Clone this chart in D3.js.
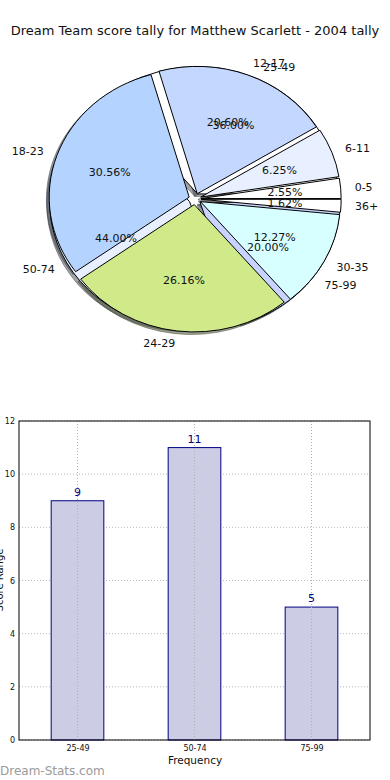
<!DOCTYPE html>
<html><head><meta charset="utf-8">
<script src="https://cdn.jsdelivr.net/npm/d3@7"></script>
<style>body{margin:0;background:#fff}svg{display:block}text{font-family:"DejaVu Sans",sans-serif}</style>
</head><body>
<svg id="c" width="390" height="780"></svg>
<script>
const title = "Dream Team score tally for Matthew Scarlett - 2004 tally";
// Pie 1: score groups (percentages)
const ageLabels = ["0-5","6-11","12-17","18-23","24-29","30-35","36+"];
const ageValues = [2.55, 6.25, 20.60, 30.56, 26.16, 12.27, 1.62];
const ageColors = ["#ffffff","#e8f0ff","#c4d8ff","#b4d4ff","#d0ea8a","#d8ffff","#ffffff"];
// Pie 2 / bar chart: tally ranges
const rangeLabels = ["25-49","50-74","75-99"];
const rangeValues = [9, 11, 5];
const rangeColors = ["#ffffff","#e8f0ff","#c8d4ff"];
const yTicks = [0,2,4,6,8,10,12];

const svg = d3.select("#c");
svg.append("text").attr("x",195).attr("y",35).attr("text-anchor","middle")
  .attr("font-size",13).attr("fill","#111").text(title);

// ---------- Pie ----------
const cx = 195, cy = 199, sx = 140, sy = 127.4, expl = 0.044;
const pie = d3.pie().sort(null).value(d=>d.v).startAngle(Math.PI/2).endAngle(Math.PI/2 - 2*Math.PI);
const arc = d3.arc().innerRadius(0).outerRadius(1);
const pieLayer = svg.append("g");
const shadowLayer = pieLayer.append("g");
const wedgeLayer = pieLayer.append("g");
const textLayer = svg.append("g");

function drawPie(labels, values, colors){
  const total = d3.sum(values);
  const data = pie(values.map((v,i)=>({v, l:labels[i], c:colors[i]})));
  data.forEach(d=>{
    const mid = (d.startAngle + d.endAngle)/2;
    const ux = Math.sin(mid), uy = -Math.cos(mid);
    const ox = cx + expl*ux*sx, oy = cy + expl*uy*sy;
    const col = d3.rgb(d.data.c);
    const dark = d3.rgb(col.r*0.3,col.g*0.3,col.b*0.3);
    shadowLayer.append("path").attr("d", arc(d))
      .attr("transform",`translate(${ox-0.02*sx},${oy+0.02*sy}) scale(${sx},${sy})`)
      .attr("fill", dark).attr("fill-opacity",0.5)
      .attr("stroke", dark).attr("stroke-opacity",0.5)
      .attr("stroke-width",1).attr("vector-effect","non-scaling-stroke");
    wedgeLayer.append("path").attr("d", arc(d))
      .attr("transform",`translate(${ox},${oy}) scale(${sx},${sy})`)
      .attr("fill", d.data.c).attr("stroke","#000").attr("stroke-width",1)
      .attr("vector-effect","non-scaling-stroke");
    const lx = ox + 1.1*ux*sx, ly = oy + 1.1*uy*sy;
    textLayer.append("text").attr("x",lx).attr("y",ly).attr("dy","0.35em")
      .attr("text-anchor", ux>0 ? "start" : "end").attr("font-size",11).attr("fill","#111")
      .text(d.data.l);
    const px = ox + 0.6*ux*sx, py = oy + 0.6*uy*sy;
    textLayer.append("text").attr("x",px).attr("y",py).attr("dy","0.35em")
      .attr("text-anchor","middle").attr("font-size",11).attr("fill","#111")
      .text((d.data.v/total*100).toFixed(2)+"%");
  });
}
drawPie(rangeLabels, rangeValues, rangeColors);
drawPie(ageLabels, ageValues, ageColors);

// ---------- Bar chart ----------
const L=19, R=370, T=421, B=740;
const x = d3.scaleLinear().domain([-0.5, 2.5]).range([L, R]);
const y = d3.scaleLinear().domain([0, 12]).range([B, T]);
const bw = 0.45;
const g = svg.append("g");
g.selectAll(".gy").data(yTicks).join("line")
  .attr("x1",L).attr("x2",R).attr("y1",d=>y(d)).attr("y2",d=>y(d))
  .attr("stroke","#b8b8b8").attr("stroke-width",1).attr("stroke-dasharray","1,2");
g.selectAll(".bar").data(rangeValues).join("rect")
  .attr("x",(d,i)=>x(i-bw/2)).attr("y",d=>y(d))
  .attr("width",(d,i)=>x(i+bw/2)-x(i-bw/2)).attr("height",d=>B-y(d))
  .attr("fill","#ccccE4").attr("stroke","#000080").attr("stroke-width",1);
g.selectAll(".gx").data(rangeLabels).join("line")
  .attr("x1",(d,i)=>x(i)).attr("x2",(d,i)=>x(i)).attr("y1",T).attr("y2",B)
  .attr("stroke","#b0b0b0").attr("stroke-width",1).attr("stroke-dasharray","1,2");
g.selectAll(".vl").data(rangeValues).join("text")
  .attr("x",(d,i)=>x(i)).attr("y",d=>y(d)-5).attr("text-anchor","middle")
  .attr("font-size",11).attr("fill","#000080").text(d=>d);
g.append("rect").attr("x",L).attr("y",T).attr("width",R-L).attr("height",B-T)
  .attr("fill","none").attr("stroke","#000").attr("stroke-width",1);
const yAxis = d3.axisLeft(y).tickValues(yTicks).tickSize(0).tickPadding(4);
const ya = g.append("g").attr("transform",`translate(${L},0)`).call(yAxis);
ya.select(".domain").remove();
ya.selectAll("text").attr("font-size",8).attr("fill","#111").attr("font-family","'DejaVu Sans',sans-serif");
const xAxis = d3.axisBottom(x).tickValues([0,1,2]).tickFormat(i=>rangeLabels[i]).tickSize(0).tickPadding(5);
const xa = g.append("g").attr("transform",`translate(0,${B})`).call(xAxis);
xa.select(".domain").remove();
xa.selectAll("text").attr("font-size",8).attr("fill","#111").attr("font-family","'DejaVu Sans',sans-serif");
svg.append("text").attr("x",195).attr("y",764).attr("text-anchor","middle")
  .attr("font-size",10.5).attr("fill","#111").text("Frequency");
svg.append("text").attr("transform","translate(3,580) rotate(-90)").attr("text-anchor","middle")
  .attr("font-size",10).attr("fill","#111").text("Score Range");
svg.append("text").attr("x",0).attr("y",775).attr("font-size",12).attr("fill","#9a9a9a")
  .text("Dream-Stats.com");
</script>
</body></html>
